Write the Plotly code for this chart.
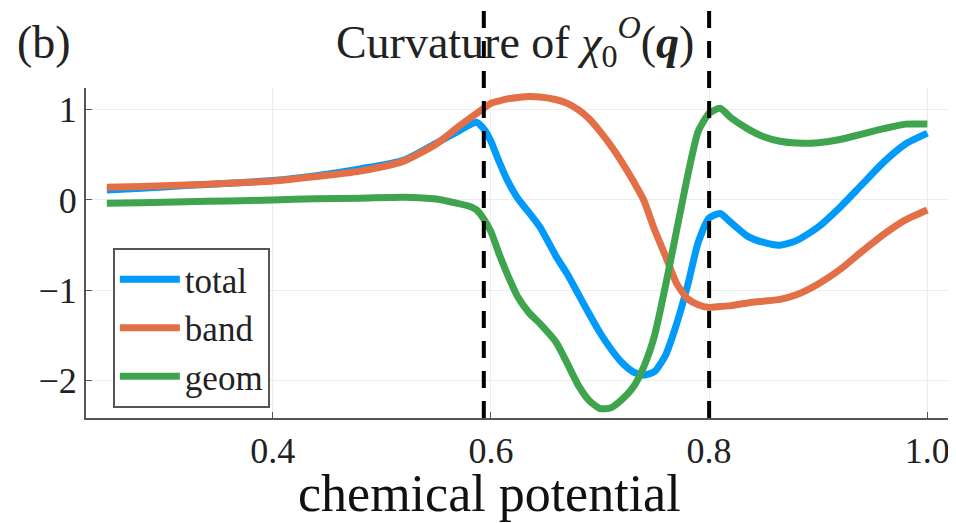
import plotly.graph_objects as go

# chemical potential grid
mu = [0.248, 0.28, 0.32, 0.36, 0.40, 0.44, 0.48, 0.52, 0.55, 0.57, 0.58, 0.587,
      0.594, 0.60, 0.607, 0.615, 0.625, 0.635, 0.645, 0.66, 0.67, 0.68, 0.69,
      0.70, 0.71, 0.72, 0.73, 0.74, 0.75, 0.76, 0.77, 0.78, 0.79, 0.80, 0.81,
      0.82, 0.835, 0.85, 0.865, 0.88, 0.90, 0.92, 0.94, 0.96, 0.98, 1.0]

total = [0.11, 0.13, 0.16, 0.185, 0.215, 0.27, 0.345, 0.44, 0.63, 0.76, 0.83, 0.86,
         0.78, 0.65, 0.44, 0.22, 0.01, -0.14, -0.30, -0.63, -0.82, -1.04, -1.26,
         -1.47, -1.65, -1.80, -1.90, -1.94, -1.90, -1.72, -1.38, -0.96, -0.47, -0.20, -0.15,
         -0.25, -0.40, -0.47, -0.50, -0.45, -0.30, -0.08, 0.17, 0.42, 0.62, 0.74]

band = [0.14, 0.15, 0.165, 0.185, 0.21, 0.26, 0.32, 0.43, 0.62, 0.81, 0.90, 0.96,
        1.02, 1.07, 1.095, 1.12, 1.135, 1.145, 1.14, 1.11, 1.07, 1.00, 0.90,
        0.76, 0.60, 0.42, 0.22, 0.00, -0.33, -0.62, -0.92, -1.09, -1.16, -1.19, -1.18,
        -1.17, -1.14, -1.12, -1.10, -1.05, -0.93, -0.77, -0.57, -0.38, -0.22, -0.11]

geom = [-0.035, -0.03, -0.02, -0.01, 0.0, 0.015, 0.02, 0.03, 0.01, -0.04, -0.07, -0.11,
        -0.22, -0.35, -0.58, -0.82, -1.08, -1.25, -1.37, -1.58, -1.81, -2.05, -2.22,
        -2.31, -2.30, -2.21, -2.08, -1.85, -1.50, -0.95, -0.35, 0.25, 0.76, 0.96, 1.015,
        0.91, 0.79, 0.70, 0.65, 0.63, 0.635, 0.67, 0.73, 0.79, 0.84, 0.84]

vlines = [0.5935, 0.8]
x_ticks = [0.4, 0.6, 0.8, 1.0]
x_tick_text = ["0.4", "0.6", "0.8", "1.0"]
y_ticks = [1, 0, -1, -2]
y_tick_text = ["1", "0", "\u22121", "\u22122"]

series = [("total", total, "#009AFA"), ("band", band, "#E36F47"), ("geom", geom, "#3EA44E")]

FONT = "Liberation Serif"

fig = go.Figure()
for name, vals, col in series:
    fig.add_trace(go.Scatter(x=mu, y=vals, name=name, mode="lines",
                             line=dict(color=col, width=7, shape="spline", smoothing=0.6)))

for v in vlines:
    fig.add_shape(type="line", xref="x", yref="paper", x0=v, x1=v, y0=0, y1=1.245,
                  line=dict(color="black", width=4, dash="17px,13px"), layer="above")

fig.update_layout(
    width=948, height=515,
    margin=dict(l=78, r=4, t=80, b=105),
    paper_bgcolor="white", plot_bgcolor="white",
    font=dict(family=FONT, color="#222222"),
    title=dict(text="Curvature of <i>\u03c7</i><sub>0</sub><sup><i>O</i></sup>(<b><i>q</i></b>)",
               x=0.535, xanchor="center", y=0.935, yanchor="middle",
               font=dict(size=46, family=FONT, color="#222222")),
    showlegend=True,
    legend=dict(x=0.031, y=0.515, xanchor="left", yanchor="top",
                bgcolor="white", bordercolor="#555555", borderwidth=2,
                font=dict(size=35, family=FONT, color="#222222"),
                tracegroupgap=0, itemwidth=60),
    annotations=[
        dict(text="(b)", xref="paper", yref="paper", x=-0.082, y=1.139,
             xanchor="left", yanchor="middle", showarrow=False,
             font=dict(size=46, family=FONT, color="#222222")),
        dict(text="chemical potential", xref="paper", yref="paper", x=0.4665, y=-0.228,
             xanchor="center", yanchor="middle", showarrow=False,
             font=dict(size=52, family=FONT, color="#111111")),
    ],
)
fig.update_xaxes(range=[0.2289, 1.0226], tickvals=x_ticks, ticktext=x_tick_text,
                 showline=True, linecolor="#555555", linewidth=2, mirror=False,
                 ticks="inside", ticklen=6, tickcolor="#555555",
                 showgrid=True, gridcolor="#ececec", gridwidth=1, zeroline=False,
                 tickfont=dict(size=36, family=FONT, color="#222222"))
fig.update_yaxes(range=[-2.414, 1.24], tickvals=y_ticks, ticktext=y_tick_text,
                 showline=True, linecolor="#555555", linewidth=2, mirror=False,
                 ticks="inside", ticklen=6, tickcolor="#555555",
                 showgrid=True, gridcolor="#ececec", gridwidth=1, zeroline=False,
                 tickfont=dict(size=36, family=FONT, color="#222222"))

fig.write_html("out.html")
